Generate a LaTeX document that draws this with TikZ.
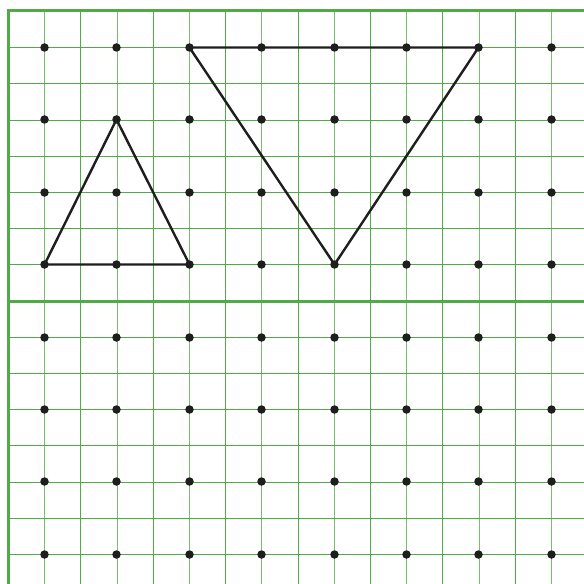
\documentclass[tikz,border=0pt]{standalone}
\definecolor{gridgreen}{RGB}{80,170,72}
\definecolor{gridlight}{RGB}{120,192,110}
\definecolor{dotblack}{RGB}{30,30,30}
\begin{document}
\begin{tikzpicture}[x=1bp,y=-1bp,
  gline/.style={draw=gridgreen,line width=1.4bp},
  glight/.style={draw=gridlight,line width=1.7bp},
  gthick/.style={draw=gridgreen,line width=3bp},
  dotnode/.style={circle,fill=dotblack,inner sep=0pt,minimum size=8.5bp},
  tri/.style={draw=dotblack,line width=2.4bp,line join=round}]
\useasboundingbox (0,0) rectangle (584,584);
\fill[white] (0,0) rectangle (584,584);
% vertical lines
\foreach \k in {1,...,15}{
  \pgfmathsetmacro{\xx}{round(8+36.2*\k)+0.5}
  \ifodd\k
    \draw[glight] (\xx,11) -- (\xx,584);
  \else
    \draw[gline] (\xx,11) -- (\xx,584);
  \fi
}
% horizontal lines
\foreach \k in {1,...,15}{
  \pgfmathsetmacro{\yy}{round(11+36.2*\k)+0.5}
  \draw[gline] (8,\yy) -- (584,\yy);
}
\draw[gthick] (8,301) -- (584,301);
\draw[gthick] (8,584) -- (8,11) -- (584,11);
% dots
\foreach \i in {0,...,7}{
  \foreach \j in {0,...,7}{
    \node[dotnode] (d\i\j) at ({round(44+72.4*\j)+0.5},{round(47+72.4*\i)+0.5}) {};
  }
}
% triangles
\draw[tri] (d30.center) -- (d11.center) -- (d32.center) -- cycle;
\draw[tri] (d02.center) -- (d06.center) -- (d34.center) -- cycle;
\end{tikzpicture}
\end{document}
